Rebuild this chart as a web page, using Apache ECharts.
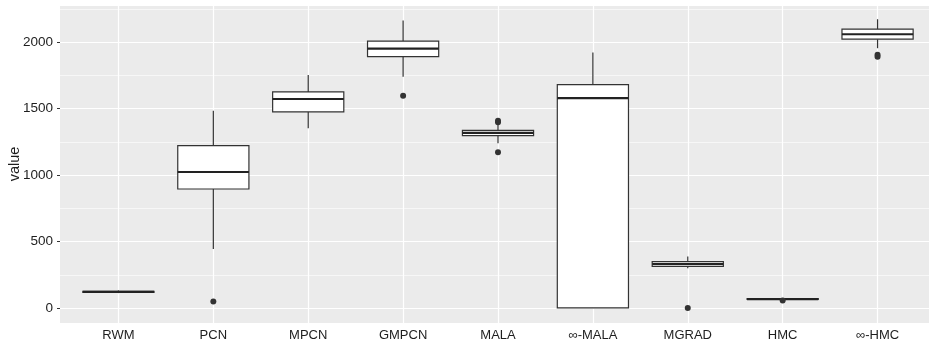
<!DOCTYPE html>
<html>
<head>
<meta charset="utf-8">
<script src="https://cdn.jsdelivr.net/npm/echarts@6/dist/echarts.min.js"></script>
<style>
  html, body { margin: 0; padding: 0; background: #fff; }
  #chart { width: 929px; height: 348px; }
</style>
</head>
<body>
<div id="chart"></div>
<script>
// box statistics per sampler
var categories = ['RWM', 'PCN', 'MPCN', 'GMPCN', 'MALA', '\u221E-MALA', 'MGRAD', 'HMC', '\u221E-HMC'];
var mins    = [113,  444, 1353, 1741, 1240,    0, 300,  62, 1955];
var q1s     = [119,  896, 1476, 1892, 1298,    2, 313,  65, 2023];
var medians = [122, 1024, 1573, 1952, 1318, 1579, 331,  68, 2060];
var q3s     = [126, 1222, 1626, 2008, 1337, 1681, 350,  71, 2098];
var maxs    = [133, 1485, 1754, 2163, 1378, 1922, 388,  74, 2173];

// outliers: category index + value
var outlierCats = [1,  3,    4,    4,    4,    6, 7,  8,    8];
var outlierVals = [50, 1598, 1410, 1398, 1173, 0, 58, 1905, 1890];

var yTicks = [0, 500, 1000, 1500, 2000];
var minorBreaks = [250, 750, 1250, 1750, 2250];
var yMin = -112, yMax = 2280;

var boxData = categories.map(function (c, i) {
    return [i, mins[i], q1s[i], medians[i], q3s[i], maxs[i]];
});
var outlierData = outlierCats.map(function (c, i) {
    return [c, outlierVals[i]];
});

var textFont = 'Liberation Sans, Arial, sans-serif';
var dark = '#333333';

function renderBox(params, api) {
    var x = api.value(0);
    var pMin = api.coord([x, api.value(1)]);
    var pQ1 = api.coord([x, api.value(2)]);
    var pMed = api.coord([x, api.value(3)]);
    var pQ3 = api.coord([x, api.value(4)]);
    var pMax = api.coord([x, api.value(5)]);
    var half = api.size([1, 0])[0] * 0.75 / 2;
    var cx = pMed[0];
    return {
        type: 'group',
        children: [
            {type: 'line', shape: {x1: cx, y1: pMin[1], x2: cx, y2: pQ1[1]},
             style: {stroke: dark, lineWidth: 1.2}},
            {type: 'line', shape: {x1: cx, y1: pQ3[1], x2: cx, y2: pMax[1]},
             style: {stroke: dark, lineWidth: 1.2}},
            {type: 'rect', shape: {x: cx - half, y: pQ3[1], width: half * 2, height: pQ1[1] - pQ3[1]},
             style: {fill: '#ffffff', stroke: dark, lineWidth: 1.2}},
            {type: 'line', shape: {x1: cx - half, y1: pMed[1], x2: cx + half, y2: pMed[1]},
             style: {stroke: '#222222', lineWidth: 2.2}}
        ]
    };
}

var chart = echarts.init(document.getElementById('chart'));
chart.setOption({
    animation: false,
    backgroundColor: '#ffffff',
    grid: [
        {left: 60, right: 0, top: 5, bottom: 25, show: true, outerBoundsMode: 'none',
         backgroundColor: '#EBEBEB', borderWidth: 0},
        {left: 71, right: 4, top: 5, bottom: 25, outerBoundsMode: 'none'}
    ],
    xAxis: [
        {gridIndex: 0, type: 'value', min: 0, max: 1, show: false},
        {gridIndex: 1, type: 'category', data: categories, boundaryGap: true,
         axisLine: {show: false},
         axisTick: {show: true, alignWithLabel: true, length: 3, lineStyle: {color: dark}},
         axisLabel: {color: '#1e1e1e', fontSize: 13, fontFamily: textFont, margin: 6, interval: 0},
         splitLine: {show: false}}
    ],
    yAxis: [
        {gridIndex: 0, type: 'value', min: yMin, max: yMax,
         name: 'value', nameLocation: 'middle', nameRotate: 90, nameGap: 38,
         nameMoveOverlap: false,
         nameTextStyle: {color: '#1e1e1e', fontSize: 14.5, fontFamily: textFont},
         axisLine: {show: false},
         axisTick: {show: true, length: 3, lineStyle: {color: dark}},
         axisLabel: {color: '#1e1e1e', fontSize: 13.5, fontFamily: textFont, margin: 7,
                     showMinLabel: false, showMaxLabel: false,
                     formatter: function (v) { return yTicks.indexOf(v) >= 0 ? String(v) : ''; }},
         splitLine: {show: true, lineStyle: {color: '#ffffff', width: 1.2}}},
        {gridIndex: 1, type: 'value', min: yMin, max: yMax, show: false,
         splitLine: {show: false}}
    ],
    series: [
        {
            type: 'scatter', xAxisIndex: 0, yAxisIndex: 0, data: [],
            markLine: {
                silent: true, symbol: 'none', z: 1,
                label: {show: false},
                lineStyle: {color: '#ffffff', width: 0.6, type: 'solid'},
                data: minorBreaks.map(function (v) { return {yAxis: v}; })
            }
        },
        {
            type: 'custom', xAxisIndex: 1, yAxisIndex: 1, z: 3,
            renderItem: renderBox,
            encode: {x: 0, y: [1, 2, 3, 4, 5]},
            data: boxData
        },
        {
            type: 'scatter', xAxisIndex: 1, yAxisIndex: 1, z: 4,
            symbolSize: 6,
            itemStyle: {color: dark, opacity: 1},
            data: outlierData,
            markLine: {
                silent: true, symbol: 'none', z: 1,
                label: {show: false},
                lineStyle: {color: '#ffffff', width: 1.2, type: 'solid'},
                data: categories.map(function (c, i) { return {xAxis: i}; })
            }
        }
    ]
});
</script>
</body>
</html>
